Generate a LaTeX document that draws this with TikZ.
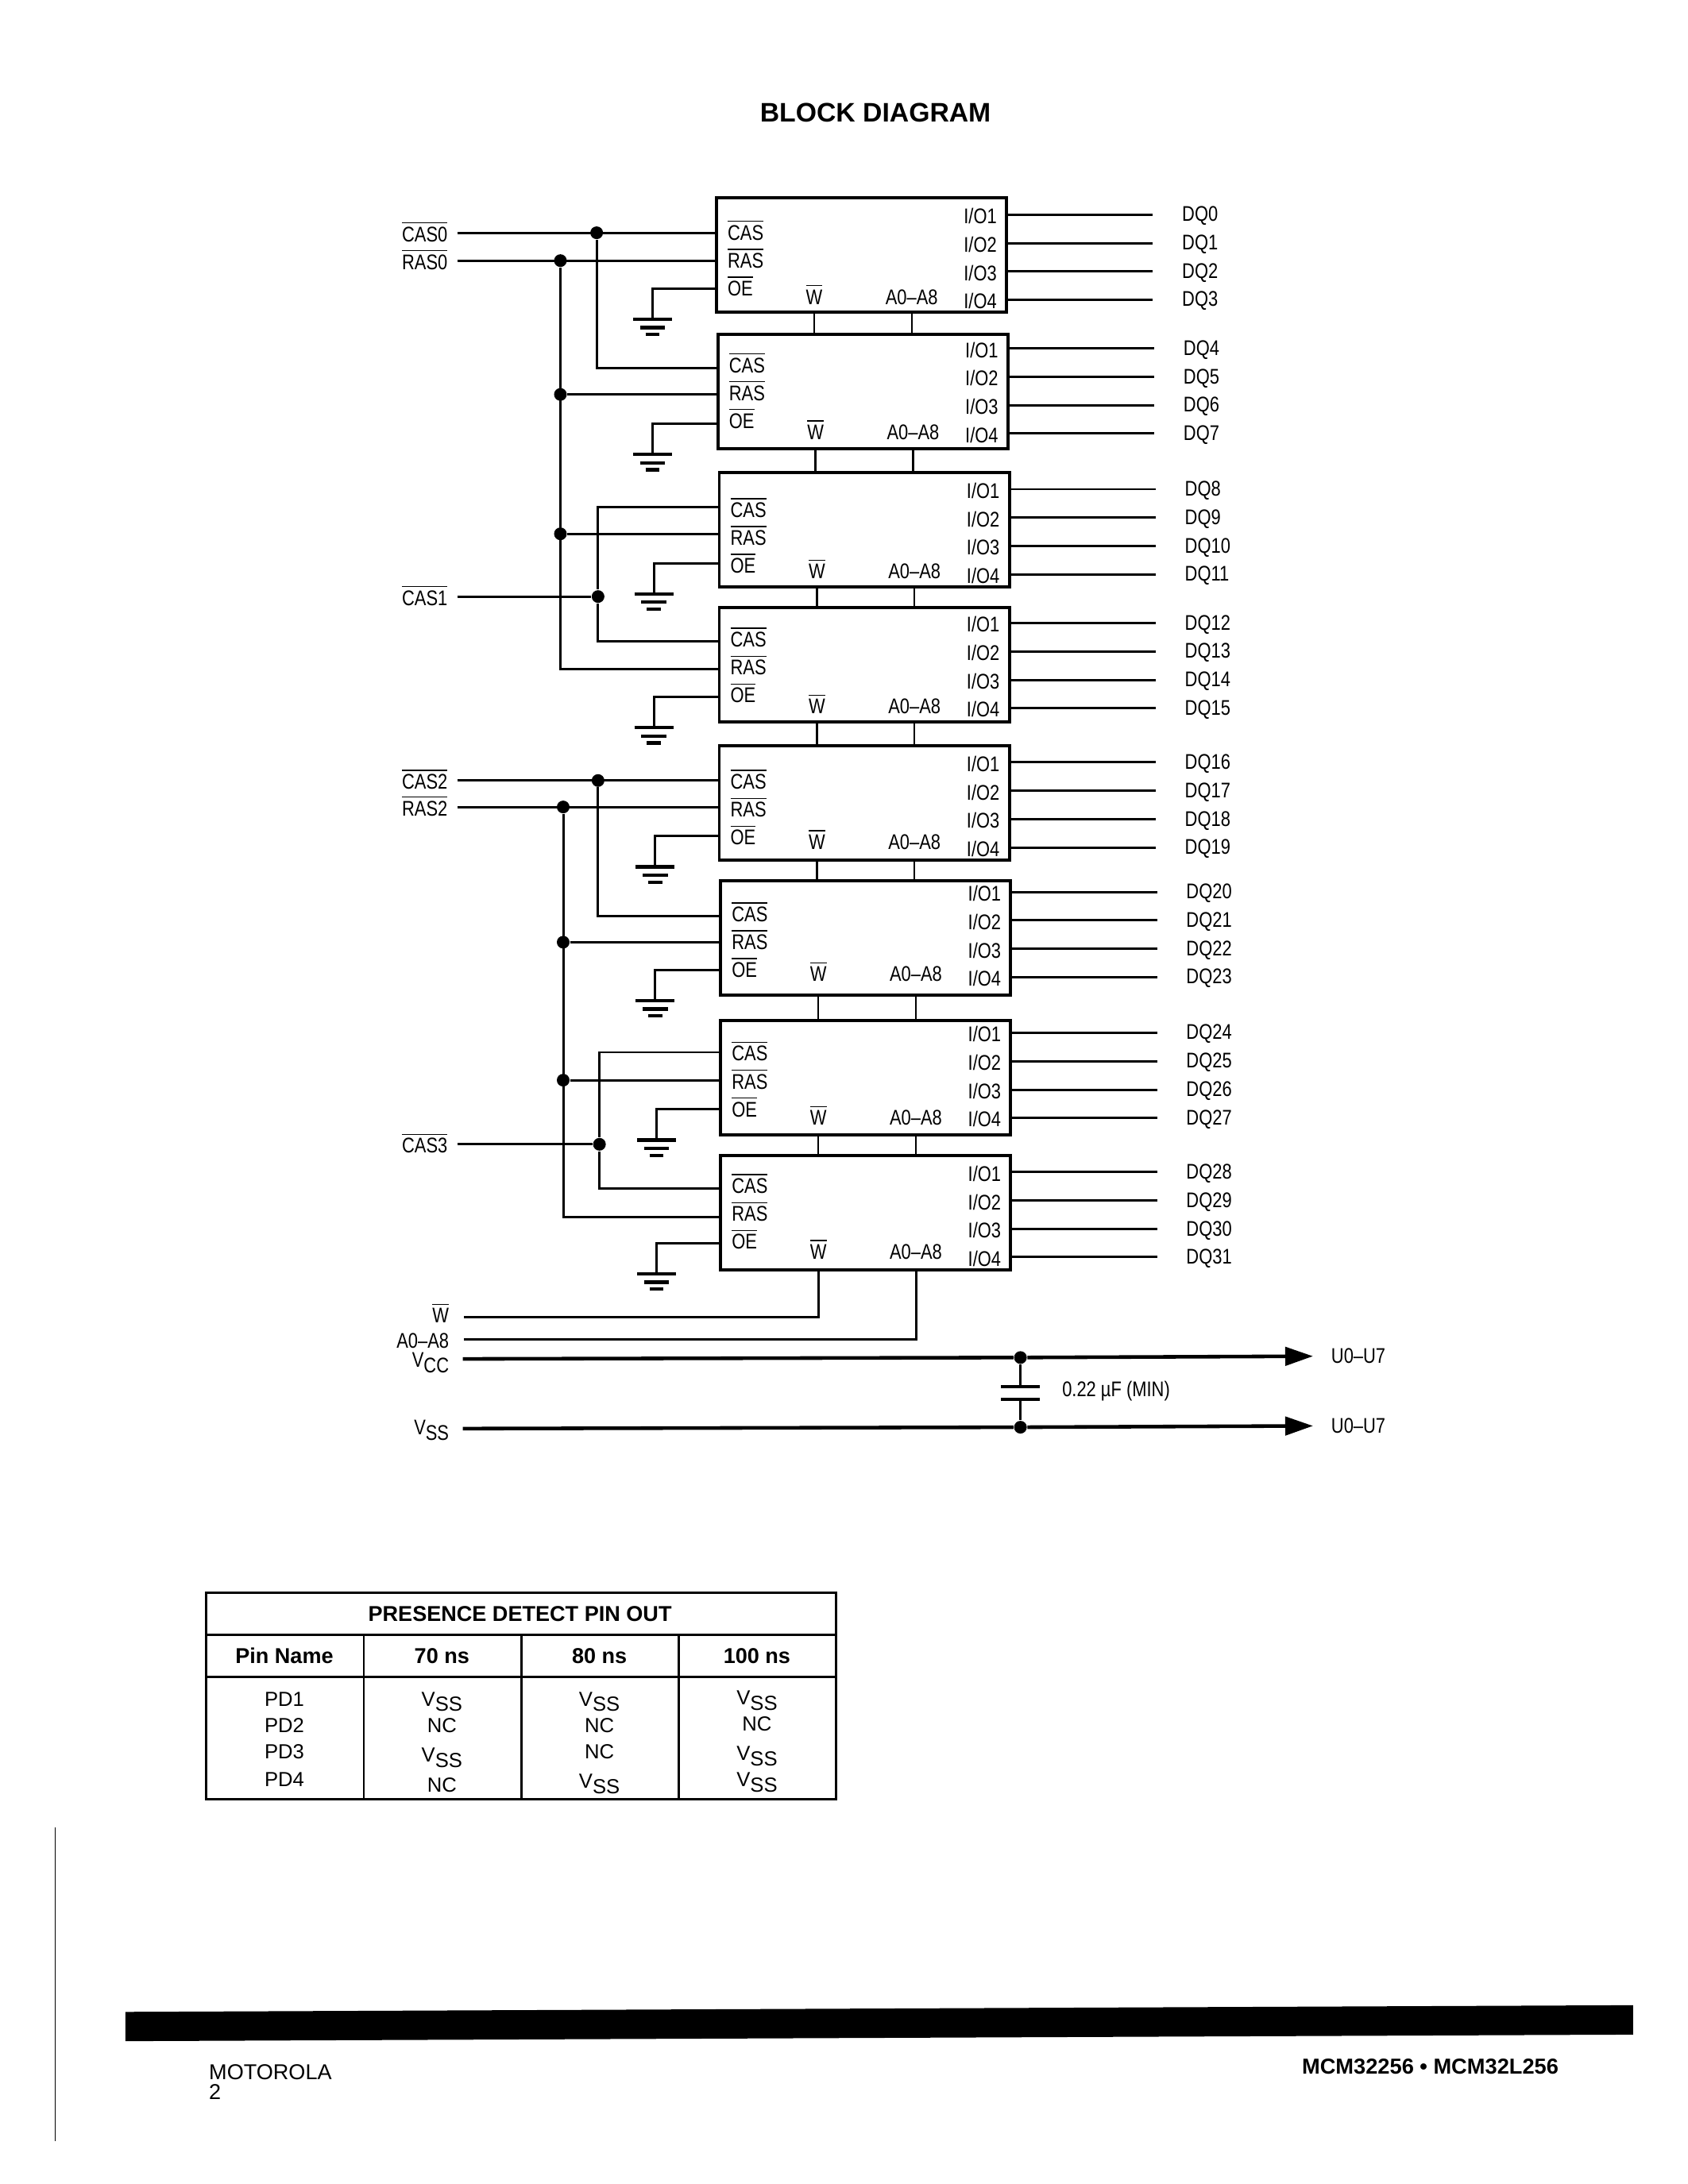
\documentclass[tikz,border=0pt]{standalone}
\usepackage{fontspec}
\setmainfont{Liberation Sans}
\newfontfamily\scanfont[FakeStretch=.82]{Liberation Sans}
\usetikzlibrary{arrows.meta}
\newcommand{\ovl}[1]{$\overline{\mbox{#1}}$}
\newcommand{\vsub}[1]{V\raisebox{-.5ex}{#1}}

\tikzset{
  chip/.style={draw,line width=1.1pt,minimum width=3.65cm,minimum height=1.44cm,inner sep=0,outer sep=0},
  pin/.style={font=\scanfont\fontsize{7.6}{8}\selectfont,inner sep=0,outer sep=0},
  celltext/.style={font=\fontsize{7.3}{8}\selectfont,inner sep=0,outer sep=0},
  headtext/.style={font=\bfseries\fontsize{7.7}{9}\selectfont,inner sep=0,outer sep=0},
  wire/.style={line width=.85pt},
  stub/.style={line width=.7pt},
  bar/.style={line width=1.2pt},
  power/.style={line width=1.3pt},
  dot/.style={circle,fill,inner sep=0,minimum size=.16cm},
  power arrow/.style={power,-{Triangle[length=.35cm,width=.23cm]},shorten >=.23cm}
}

\begin{document}
\begin{tikzpicture}[x=.01755cm,y=-.01755cm]
  \useasboundingbox (0,0) rectangle (1210.8,1567);
  \node[font=\bfseries\fontsize{9.6}{11}\selectfont,inner sep=0] (title) at (628,81) {BLOCK DIAGRAM};

  % memory blocks
  \foreach \n/\l/\t/\c/\r/\o/\g/\v/\w/\i in {
      1/514/142/167/187/207/468/167/213/155,
      2/515/240/264/283/304/468/262/310/251,
      3/516/339/364/383/404/469/366/410/352,
      4/516/436/460/480/500/469/459/507/448,
      5/516/535/560/579/600/470/561/604/548,
      6/517/632/657/676/696/470/656/699/641,
      7/517/732/755/775/796/471/756/802/742,
      8/517/829/853/873/892/471/851/898/842} {
    \node[chip] (ram\n) at ({\l+104},{\t+41}) {};
    \coordinate (c\n) at (\l,\c);
    \coordinate (r\n) at (\l,\r);
    \coordinate (o\n) at (\l,\o);
    \node[pin,anchor=west] (cas\n) at ({\l+8},{\v-2}) {\ovl{CAS}};
    \node[pin,anchor=west] (ras\n) at ({\l+8},{\v+18}) {\ovl{RAS}};
    \node[pin,anchor=west] (oe\n) at ({\l+8},{\v+38}) {\ovl{OE}};
    \node[pin] (wl\n) at ({\l+70},{\w-2}) {\ovl{W}};
    \node[pin] (al\n) at ({\l+140},\w) {A0–A8};
    \coordinate (g\n) at (\g,{\o+22});
    \draw[wire] (o\n) -- (g\n |- o\n) -- (g\n);
    \draw[bar] (g\n) ++(-14,0) -- ++(28,0) (g\n) ++(-9,6) -- ++(18,0) (g\n) ++(-5,11) -- ++(10,0);
    % outputs
    \foreach \k/\dy in {1/0,2/20.4,3/40.8,4/61} {
      \pgfmathtruncatemacro{\q}{(\n-1)*4+\k-1}
      \node[pin,anchor=east] (io\q) at ({\l+201},{\i+\dy}) {I/O\k};
      \node[pin,anchor=west] (dq\q) at ({\l+334},{\i+\dy}) {DQ\q};
      \coordinate (e\q) at ({\l+313},{\i+\dy-1});
      \draw[wire] (ram\n.east |- e\q) -- (e\q);
    }
  }

  \foreach \from/\to in {1/2,2/3,3/4,4/5,5/6,6/7,7/8} {
    \draw[stub] (wl\from |- ram\from.south) -- (wl\from |- ram\to.north);
    \draw[stub] (al\from |- ram\from.south) -- (al\from |- ram\to.north);
  }

  % inputs on the left
  \foreach \name/\y/\txt in {cas0/167/CAS0,ras0/187/RAS0,cas1/428/CAS1,cas2/560/CAS2,ras2/579/RAS2,cas3/821/CAS3} {
    \node[pin,anchor=east] (l\name) at (321,{\y-1}) {\ovl{\txt}};
    \coordinate (e\name) at (328,\y);
  }

  \node[dot] (d1) at (428,167) {};
  \node[dot] (d2) at (402,187) {};
  \node[dot] (d3) at (402,283) {};
  \node[dot] (d4) at (402,383) {};
  \node[dot] (d5) at (429,428) {};
  \node[dot] (d6) at (429,560) {};
  \node[dot] (d7) at (404,579) {};
  \node[dot] (d8) at (404,676) {};
  \node[dot] (d9) at (404,775) {};
  \node[dot] (d10) at (430,821) {};

  \draw[wire] (ecas0) -- (c1);
  \draw[wire] (eras0) -- (r1);
  \draw[wire] (d1) |- (c2);
  \draw[wire] (d2) |- (r4);
  \draw[wire] (d3) -- (r2);
  \draw[wire] (d4) -- (r3);
  \draw[wire] (ecas1) -- (d5);
  \draw[wire] (c3) -| (d5);
  \draw[wire] (d5) |- (c4);
  \draw[wire] (ecas2) -- (c5);
  \draw[wire] (eras2) -- (r5);
  \draw[wire] (d6) |- (c6);
  \draw[wire] (d7) |- (r8);
  \draw[wire] (d8) -- (r6);
  \draw[wire] (d9) -- (r7);
  \draw[wire] (ecas3) -- (d10);
  \draw[wire] (c7) -| (d10);
  \draw[wire] (d10) |- (c8);

  % write and address
  \node[pin,anchor=east] (lw) at (322,942) {\ovl{W}};
  \node[pin,anchor=east] (la) at (322,962) {A0–A8};
  \coordinate (ew) at (333,945);
  \coordinate (ea) at (333,961);
  \draw[wire] (wl8 |- ram8.south) |- (ew);
  \draw[wire] (al8 |- ram8.south) |- (ea);

  % supply and capacitor
  \node[pin,anchor=east] (lvcc) at (322,978) {\vsub{CC}};
  \node[pin,anchor=east] (lvss) at (322,1026) {\vsub{SS}};
  \coordinate (evcc) at (332,975);
  \coordinate (evss) at (332,1025);
  \node[dot] (dvcc) at (732,974) {};
  \node[dot] (dvss) at (732,1024) {};
  \node[pin,anchor=west] (uvcc) at (955,973) {U0–U7};
  \node[pin,anchor=west] (uvss) at (955,1023) {U0–U7};
  \coordinate (pa) at (732,995);
  \coordinate (pb) at (732,1004);
  \node[pin,anchor=west] (ccap) at (762,998) {0.22 µF (MIN)};
  \draw[power] (evcc) -- (dvcc);
  \draw[power] (evss) -- (dvss);
  \draw[power arrow] (dvcc) -- (uvcc.west);
  \draw[power arrow] (dvss) -- (uvss.west);
  \draw[wire] (dvcc) -- (pa);
  \draw[wire] (pb) -- (dvss);
  \draw[bar] (pa) ++(-14,0) -- ++(28,0) (pb) ++(-14,0) -- ++(28,0);

  % presence detect table
  \draw[wire] (148,1143) rectangle (600,1291);
  \draw[wire] (148,1173) -- (600,1173) (148,1203) -- (600,1203);
  \foreach \x in {261,374,487}
    \draw[stub] (\x,1173) -- (\x,1291);
  \node[headtext] (ttitle) at (373,1158) {PRESENCE DETECT PIN OUT};
  \foreach \n/\x/\txt in {a/204/Pin Name,b/317/70 ns,c/430/80 ns,d/543/100 ns}
    \node[headtext] (th\n) at (\x,1188) {\txt};
  \foreach \n/\y in {1/1219,2/1238,3/1257,4/1277}
    \node[celltext] (pd\n) at (204,\y) {PD\n};
  \foreach \n/\x/\y/\txt in {a/317/1221/\vsub{SS},b/317/1238/NC,c/317/1261/\vsub{SS},d/317/1281/NC,
      e/430/1221/\vsub{SS},f/430/1238/NC,g/430/1257/NC,h/430/1280/\vsub{SS},
      i/543/1220/\vsub{SS},j/543/1237/NC,k/543/1260/\vsub{SS},l/543/1279/\vsub{SS}}
    \node[celltext] (tv\n) at (\x,\y) {\txt};

  % footer
  \fill (90,1443.5) -- (1171.5,1438.7) -- (1171.5,1459.8) -- (90,1464.5) -- cycle;
  \draw[line width=.3pt] (39.5,1311) -- (39.5,1536);
  \node[pin,anchor=west,font=\fontsize{7.7}{9}\selectfont] (fa) at (150,1486.5) {MOTOROLA};
  \node[pin,anchor=west,font=\fontsize{7.7}{9}\selectfont] (fb) at (150,1501) {2};
  \node[headtext,anchor=east,font=\bfseries\fontsize{7.75}{9}\selectfont] (fc) at (1118,1483) {MCM32256 • MCM32L256};
\end{tikzpicture}
\end{document}
